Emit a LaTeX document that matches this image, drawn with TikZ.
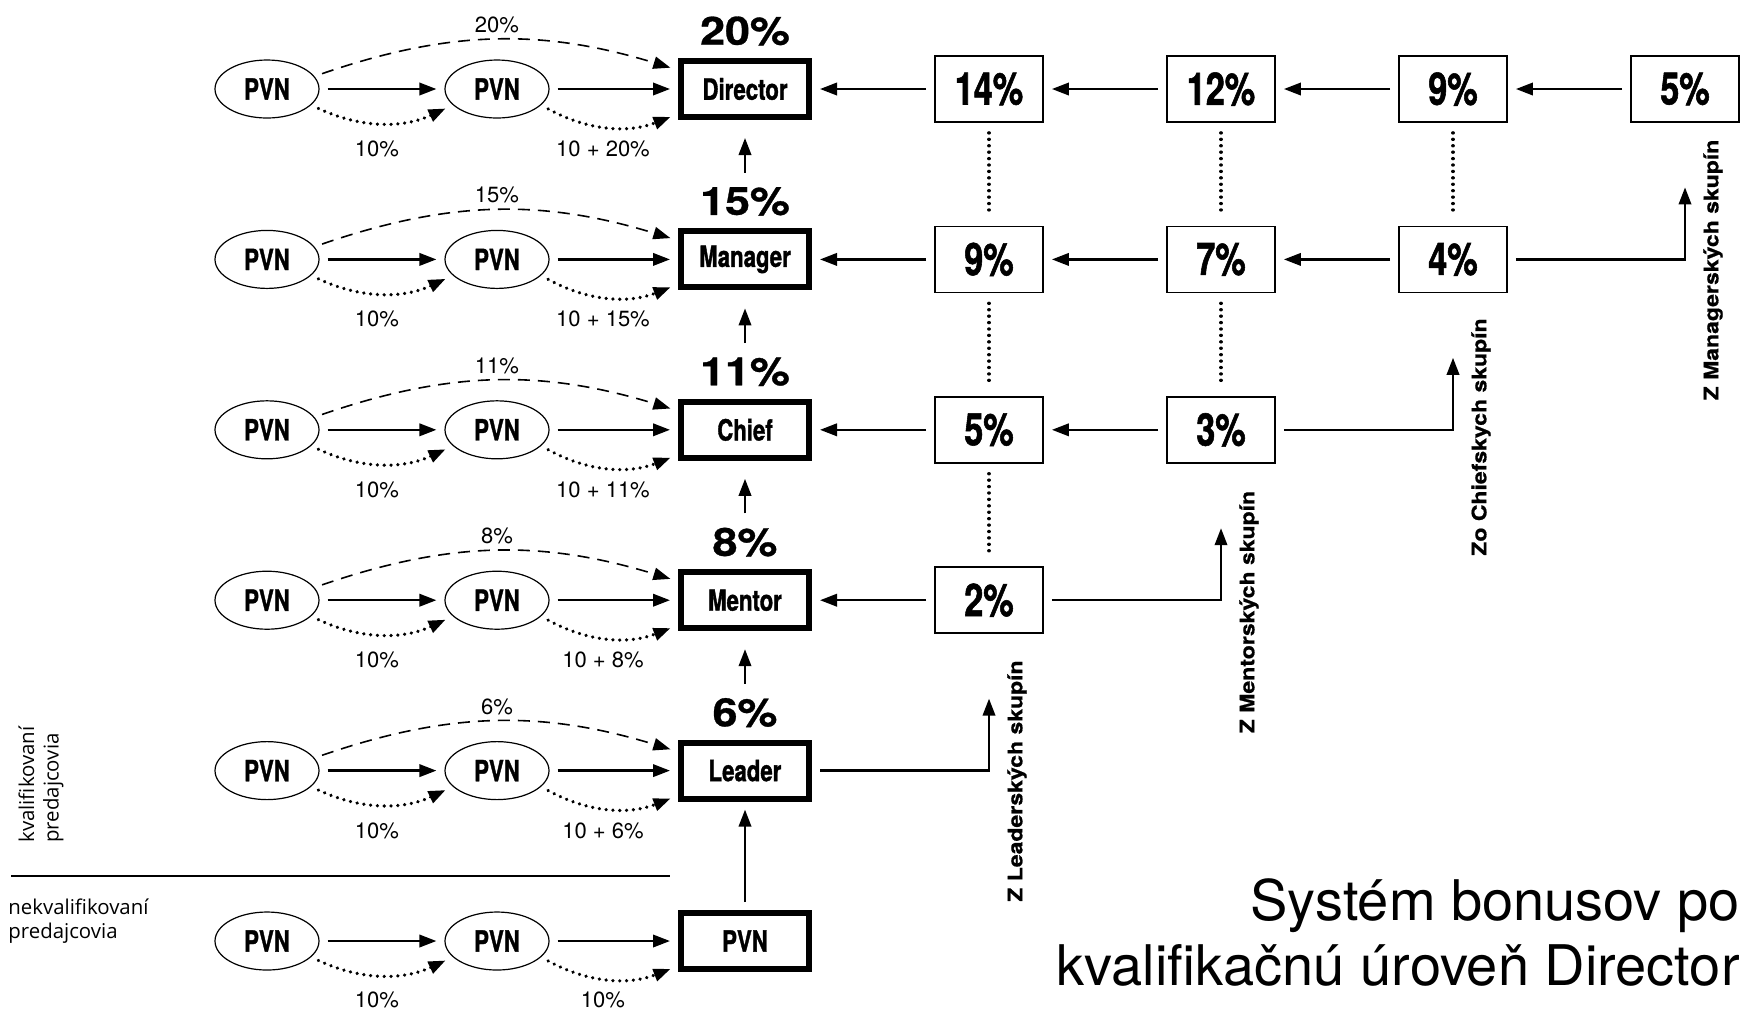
\documentclass[tikz,border=0pt]{standalone}
\usepackage{fontspec}
\setmainfont{TeX Gyre Heros}
\newfontfamily\condfont[FakeStretch=0.76,FakeBold=1.2]{TeX Gyre Heros}
\newfontfamily\widefont[FakeStretch=1.15,FakeBold=0.8]{TeX Gyre Heros}
\newfontfamily\notefont{Open Sans}
\usetikzlibrary{arrows.meta,shapes.geometric}

\begin{document}
\begin{tikzpicture}[x=0.5pt,y=-0.5pt]
% Styles
\tikzstyle{pvn}=[ellipse, draw, line width=0.6pt, minimum width=52pt, minimum height=29pt, inner sep=0pt, font=\condfont\bfseries\fontsize{14.6}{16}\selectfont]
\tikzstyle{rank}=[draw, line width=3pt, minimum width=64pt, minimum height=28pt, inner sep=0pt, font=\condfont\bfseries\fontsize{14.6}{16}\selectfont]
\tikzstyle{share}=[draw, line width=0.9pt, minimum width=54pt, minimum height=33pt, inner sep=0pt, font=\condfont\bfseries\fontsize{22.5}{24}\selectfont]
\tikzstyle{bigpct}=[inner sep=0pt, font=\widefont\bfseries\fontsize{19.5}{21}\selectfont]
\tikzstyle{lbl}=[inner sep=0pt, font=\fontsize{11}{13}\selectfont]
\tikzstyle{source}=[rotate=90, inner sep=0pt, font=\widefont\bfseries\fontsize{10}{12}\selectfont]
\tikzstyle{note}=[inner sep=0pt, align=left, font=\notefont\fontsize{10.2}{12.3}\selectfont]
\tikzstyle{flow}=[-{Triangle[length=8.5pt,width=6.2pt]}, line width=1.2pt, shorten <=4pt, shorten >=4pt]
\tikzstyle{dotflow}=[flow, line width=1.8pt, dash pattern=on 0.01pt off 3.4pt, line cap=round]
\tikzstyle{dashflow}=[flow, line width=0.8pt, dash pattern=on 6pt off 4pt]
\tikzstyle{link}=[line width=1.7pt, dash pattern=on 0.01pt off 3.2pt, line cap=round, shorten <=5pt, shorten >=5pt]

\useasboundingbox (0,0) rectangle (1749,1009);

% qualified rows
\foreach \lvl/\pct [count=\i] in {Director/20,Manager/15,Chief/11,Mentor/8,Leader/6} {
\pgfmathsetmacro{\y}{89+(\i-1)*170.4}
\node[pvn] (a\i) at (267,\y) {PVN};
\node[pvn] (e\i) at (497,\y) {PVN};
\node[rank] (b\i) at (745,\y) {\lvl};
\node[bigpct] (p\i) at (745,\y-58) {\pct\%};
\draw[flow] (a\i) -- (e\i);
\draw[flow] (e\i) -- (b\i);
\draw[dotflow] (a\i.-20) to[bend right=25] (e\i.-160);
\draw[dotflow] (e\i.-20) to[bend right=25] ([yshift=3pt]b\i.south west);
\draw[dashflow] (a\i.15) to[bend left=18] ([yshift=-6pt]b\i.north west);
\node[lbl] (u\i) at (497,\y-64) {\pct\%};
\node[lbl] (v\i) at (377,\y+60) {10\%};
\node[lbl] (w\i) at (603,\y+60) {10 + \pct\%};
}

% unqualified row
\node[pvn] (a6) at (267,941) {PVN};
\node[pvn] (e6) at (497,941) {PVN};
\node[rank] (b6) at (745,941) {PVN};
\draw[flow] (a6) -- (e6);
\draw[flow] (e6) -- (b6);
\draw[dotflow] (a6.-20) to[bend right=25] (e6.-160);
\draw[dotflow] (e6.-20) to[bend right=25] ([yshift=3pt]b6.south west);
\node[lbl] (v6) at (377,1000) {10\%};
\node[lbl] (w6) at (603,1000) {10\%};

% upward arrows
\draw[flow] (b6) -- (b5);
\foreach \i/\j in {2/1,3/2,4/3,5/4}
\draw[flow, shorten <=7pt, shorten >=9pt] (p\i) -- (b\j);

% group shares
\foreach \v [count=\c] in {14,12,9,5}
\node[share] (m1\c) at ({989+(\c-1)*232},89) {\v\%};
\foreach \v [count=\c] in {9,7,4}
\node[share] (m2\c) at ({989+(\c-1)*232},259.4) {\v\%};
\foreach \v [count=\c] in {5,3}
\node[share] (m3\c) at ({989+(\c-1)*232},429.8) {\v\%};
\node[share] (m41) at (989,600.2) {2\%};

\foreach \c/\d in {2/1,3/2,4/3}
\draw[flow] (m1\c) -- (m1\d);
\foreach \c/\d in {2/1,3/2}
\draw[flow] (m2\c) -- (m2\d);
\draw[flow] (m32) -- (m31);
\draw[flow] (m11) -- (b1);
\draw[flow] (m21) -- (b2);
\draw[flow] (m31) -- (b3);
\draw[flow] (m41) -- (b4);

\draw[link] (m11) -- (m21);
\draw[link] (m21) -- (m31);
\draw[link] (m31) -- (m41);
\draw[link] (m12) -- (m22);
\draw[link] (m22) -- (m32);
\draw[link] (m13) -- (m23);

% hand-over to higher groups
\coordinate (t1) at (989,698.6);
\coordinate (t2) at (1221,528.2);
\coordinate (t3) at (1453,357.8);
\coordinate (t4) at (1685,187.4);
\draw[flow, shorten >=0pt] (b5) -| (t1);
\draw[flow, shorten >=0pt] (m41) -| (t2);
\draw[flow, shorten >=0pt] (m32) -| (t3);
\draw[flow, shorten >=0pt] (m23) -| (t4);

\node[source] (s1) at (1017,781) {Z Leaderských skupín};
\node[source] (s2) at (1249,612) {Z Mentorských skupín};
\node[source] (s3) at (1481,437) {Zo Chiefskych skupín};
\node[source] (s4) at (1713,270) {Z Managerských skupín};

% seller groups
\node[note, rotate=90, anchor=north west] (q1) at (18,843) {kvalifikovaní\\predajcovia};
\node[note, anchor=north west] (q2) at (8,898) {nekvalifikovaní\\predajcovia};
\draw[line width=1pt] (11,876) -- (670,876);

\node[anchor=north east, align=right, inner sep=0pt, font=\fontsize{28}{32.5}\selectfont] (title) at (1740,878) {Systém bonusov po\\kvalifikačnú úroveň Director};

\end{tikzpicture}
\end{document}
